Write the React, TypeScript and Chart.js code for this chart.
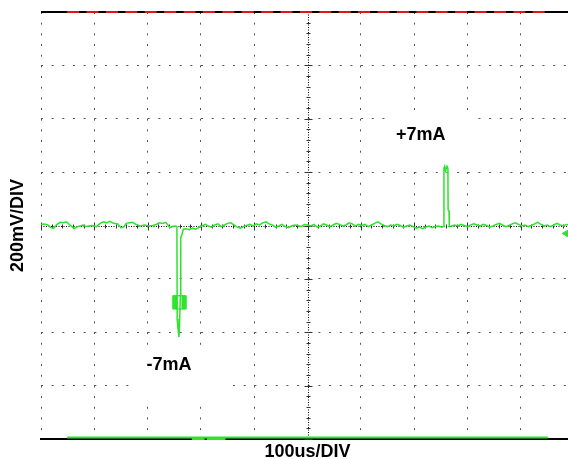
import React, { useEffect, useRef } from 'react';
import { Chart, registerables } from 'chart.js';

Chart.register(...registerables);

// ---- axis setup (time in µs, amplitude in mV) ----
const X_TITLE = '100us/DIV';
const Y_TITLE = '200mV/DIV';
const X_MIN = 0;
const X_MAX = 1000;
const X_STEP = 100;
const Y_MIN = -800;
const Y_MAX = 800;
const Y_STEP = 200;
const X_CENTER = 500;
const Y_CENTER = 0;
const X_MINOR = 20;
const Y_MINOR = 40;

// ---- trace segments [µs, mV] ----
const baselineBefore: [number, number][] = [
  [0, 4], [6, 6], [13, 2], [18, -8], [24, -10], [30, 4], [36, 12], [42, 10], [48, 14], [54, 2],
  [58, -4], [62, -12], [66, -6], [73, -2], [79, 2], [84, -4], [90, -2], [96, 0], [104, -4], [111, 8],
  [117, 14], [123, 10], [129, 16], [136, 8], [144, 6], [150, -8], [155, -6], [160, 8], [166, 10], [172, 12],
  [178, 4], [186, -2], [194, 2], [202, -2], [210, 0], [216, 4], [222, 10], [228, 8], [234, 12], [238, 2],
  [242, -8], [247, -4], [252, -2], [255, -4],
];
const negativePulse: [number, number][] = [
  [255.5, -350], [257, -385], [258.8, -418], [259.8, -380], [261.5, -260], [262.2, -45], [263.5, -40], [267, -14],
];
const baselineMiddle: [number, number][] = [
  [272, -12], [278, -16], [284, -10], [290, -14], [296, -8], [302, -2], [308, 4], [314, -2], [320, -6], [326, 2],
  [332, 6], [338, -4], [344, 2], [350, 8], [356, 10], [362, 2], [368, -6], [374, -10], [380, -4], [386, 0],
  [392, 4], [398, -2], [404, 6], [410, 2], [416, 10], [422, 14], [428, 6], [434, 2], [440, -6], [446, -2],
  [452, 4], [458, -4], [464, -8], [470, -2], [476, 2], [482, 0], [488, -4], [494, 4], [500, 2], [506, -2],
  [512, 4], [518, -6], [524, -2], [530, 6], [536, 2], [542, -4], [548, 2], [554, 8], [560, 4], [566, -2],
  [572, 2], [578, 10], [584, 6], [590, -2], [596, 4], [602, 0], [608, 4], [614, -4], [620, 2], [626, 8],
  [632, 14], [638, 6], [644, 0], [650, -4], [656, 2], [662, -2], [668, 4], [674, 0], [680, -6], [686, -2],
  [692, 2], [698, -4], [704, -10], [710, -6], [716, -12], [722, -6], [728, -2], [734, -8], [740, -4], [746, -2],
  [752, -6], [755.5, -4],
];
const positivePulse: [number, number][] = [
  [756, 215], [757.4, 222], [759, 205], [761.7, 222], [763.4, 215], [763.8, 58], [765.5, 55], [766, -4],
];
const baselineAfter: [number, number][] = [
  [770, -2], [776, 2], [782, -2], [788, 4], [794, 0], [800, -4], [806, 2], [812, 6], [818, 2], [824, -2],
  [830, 4], [836, 0], [842, -6], [848, -2], [854, 4], [860, 8], [866, 2], [872, -4], [878, 0], [884, 6],
  [890, 10], [896, 4], [902, -2], [908, 2], [914, -4], [920, 0], [926, 6], [932, 12], [938, 4], [944, -2],
  [950, 2], [956, -4], [962, 2], [968, 8], [974, 2], [980, -2], [986, 4], [992, 2], [1000, 0],
];

// ---- markers / annotations ----
const cursorMarker: [number, number] = [259.8, -288];
const triggerMarker: [number, number] = [990, -30];
const topStripe: [number, number][] = [[49, 800], [951, 800]];
const bottomStripe: [number, number][] = [[49, -794], [951, -794]];
const bottomMarks: [number, number | null][] = [[283, -800], [307, -800], [309, null], [311, -800], [346, -800]];
const labelTexts = ['+7mA', '-7mA'];
const labelTimeUs = [712.5, 240];
const labelMv = [339, -522];

const LABEL_BOXES = [
  { l: 33, r: 57, t: 25, b: 33 },
  { l: 39, r: 56, t: 18, b: 35 },
];
const FONT_FAMILY = "'Liberation Sans', Arial, sans-serif";
const GREEN = '#2ce42c';

const toXY = (arr: [number, number | null][]) => arr.map(([x, y]) => ({ x, y }));

const scopePlugin = {
  id: 'scopeDecor',
  beforeDatasetsDraw(chart: any) {
    const { ctx, chartArea: a, scales } = chart;
    const x = scales.x;
    const y = scales.y;
    ctx.save();
    // top border
    ctx.fillStyle = '#000';
    ctx.fillRect(a.left, a.top - 1, a.right - a.left, 2);
    // center cross (dense dotted)
    const cx = Math.round(x.getPixelForValue(X_CENTER)) + 0.5;
    const cy = Math.round(y.getPixelForValue(Y_CENTER)) + 0.5;
    ctx.strokeStyle = '#000';
    ctx.lineWidth = 1;
    ctx.setLineDash([1, 1.5]);
    ctx.beginPath();
    ctx.moveTo(a.left, cy);
    ctx.lineTo(a.right, cy);
    ctx.moveTo(cx, a.top);
    ctx.lineTo(cx, a.bottom);
    ctx.stroke();
    ctx.setLineDash([]);
    // center tick marks
    ctx.strokeStyle = '#333';
    ctx.beginPath();
    for (let v = X_MIN; v <= X_MAX; v += X_MINOR) {
      const px = Math.round(x.getPixelForValue(v)) + 0.5;
      const len = v % X_STEP === 0 ? 4 : 2;
      ctx.moveTo(px, cy - len);
      ctx.lineTo(px, cy + len);
    }
    for (let v = Y_MIN; v <= Y_MAX; v += Y_MINOR) {
      const py = Math.round(y.getPixelForValue(v)) + 0.5;
      const len = v % Y_STEP === 0 ? 4 : 2;
      ctx.moveTo(cx - len, py);
      ctx.lineTo(cx + len, py);
    }
    ctx.stroke();
    // label boxes + text
    ctx.font = `bold 18px ${FONT_FAMILY}`;
    ctx.textAlign = 'center';
    ctx.textBaseline = 'middle';
    labelTexts.forEach((t, i) => {
      const px = x.getPixelForValue(labelTimeUs[i]);
      const py = y.getPixelForValue(labelMv[i]);
      const b = LABEL_BOXES[i];
      ctx.fillStyle = '#fff';
      ctx.fillRect(px - b.l, py - b.t, b.l + b.r, b.t + b.b);
      ctx.fillStyle = '#000';
      ctx.fillText(t, px, py);
    });
    ctx.restore();
  },
};

export default function App() {
  const ref = useRef<HTMLCanvasElement | null>(null);

  useEffect(() => {
    if (!ref.current) return;
    const gridColor = (c: any, center: number) =>
      c.tick && Math.abs(c.tick.value - center) < 1e-6 ? 'rgba(0,0,0,0)' : '#555';
    const chart = new Chart(ref.current, {
      type: 'line',
      data: {
        datasets: [
          {
            label: 'trace',
            data: toXY([...baselineBefore, ...negativePulse, ...baselineMiddle, ...positivePulse, ...baselineAfter]),
            borderColor: GREEN,
            borderWidth: 1.5,
            pointRadius: 0,
            tension: 0,
          },
          {
            label: 'cursorStripe',
            data: toXY([cursorMarker]),
            showLine: false,
            pointStyle: 'line',
            pointRotation: 90,
            pointRadius: 6,
            borderColor: '#fff',
            pointBorderColor: '#fff',
            pointBorderWidth: 4,
          },
          {
            label: 'cursor',
            data: toXY([cursorMarker]),
            showLine: false,
            pointStyle: 'rect',
            pointRadius: 9.5,
            pointBackgroundColor: GREEN,
            pointBorderColor: GREEN,
            pointBorderWidth: 1,
          },
          {
            label: 'trigger',
            data: toXY([triggerMarker]),
            showLine: false,
            pointStyle: 'triangle',
            pointRotation: -90,
            pointRadius: 6.5,
            pointBackgroundColor: GREEN,
            pointBorderColor: GREEN,
            pointBorderWidth: 1,
            clip: false,
          },
          {
            label: 'topStripe',
            data: toXY(topStripe),
            borderColor: '#e01515',
            borderWidth: 2,
            borderDash: [12, 7.4],
            pointRadius: 0,
            clip: false,
          },
          {
            label: 'bottomStripe',
            data: toXY(bottomStripe),
            borderColor: GREEN,
            borderWidth: 2,
            pointRadius: 0,
            clip: false,
          },
          {
            label: 'bottomMarks',
            data: toXY(bottomMarks),
            borderColor: GREEN,
            borderWidth: 2,
            pointRadius: 0,
            spanGaps: false,
            clip: false,
          },
        ],
      },
      options: {
        animation: false,
        responsive: false,
        maintainAspectRatio: false,
        devicePixelRatio: 1,
        layout: { autoPadding: false, padding: { top: 12, right: 0, left: 0, bottom: 0 } },
        plugins: { legend: { display: false }, tooltip: { enabled: false } },
        scales: {
          x: {
            type: 'linear',
            min: X_MIN,
            max: X_MAX,
            ticks: { display: false, stepSize: X_STEP },
            grid: { color: (c: any) => gridColor(c, X_CENTER), lineWidth: 1, drawTicks: false },
            border: { display: true, color: '#000', width: 2, dash: [2, 8.67] },
            title: {
              display: true,
              text: X_TITLE,
              color: '#000',
              font: { family: FONT_FAMILY, size: 18, weight: 'bold', lineHeight: '14px' },
              padding: { top: 6, bottom: 0 },
            },
          },
          y: {
            type: 'linear',
            min: Y_MIN,
            max: Y_MAX,
            ticks: { display: false, stepSize: Y_STEP },
            grid: { color: (c: any) => gridColor(c, Y_CENTER), lineWidth: 1, drawTicks: false },
            border: { display: false, dash: [2, 8.67] },
            title: {
              display: true,
              text: Y_TITLE,
              color: '#000',
              font: { family: FONT_FAMILY, size: 18, weight: 'bold', lineHeight: '14px' },
              padding: { top: 11.5, bottom: 15.5 },
            },
          },
        },
      } as any,
      plugins: [scopePlugin],
    });
    return () => chart.destroy();
  }, []);

  return (
    <div style={{ position: 'fixed', left: 0, top: 0, width: 568, height: 459, overflow: 'hidden', background: '#fff' }}>
      <canvas ref={ref} width={574} height={459} style={{ display: 'block' }} />
    </div>
  );
}
